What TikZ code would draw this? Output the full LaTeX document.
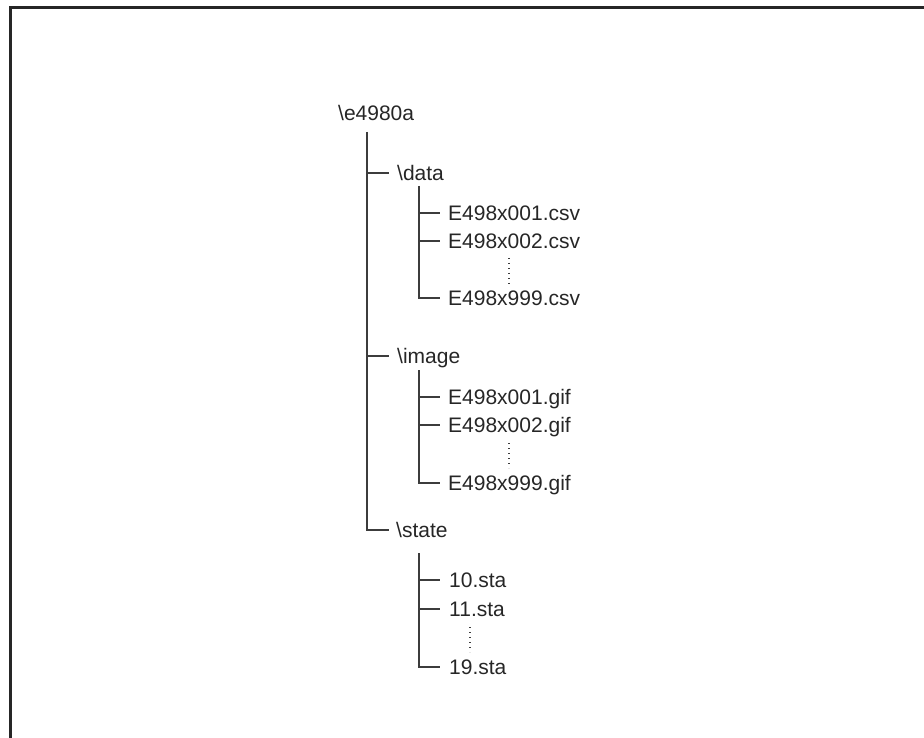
\documentclass[tikz,border=0pt]{standalone}
\usepackage{fontspec}
\setmainfont{Liberation Sans}
\definecolor{ink}{HTML}{262626}
\definecolor{linec}{HTML}{3C3C3C}
\begin{document}
\begin{tikzpicture}[x=1pt,y=-1pt,
  item/.style={anchor=west,inner sep=0pt,text height=15pt,text depth=0pt,
    text=ink,font=\fontsize{21}{25}\selectfont},
  tree/.style={draw=linec,line width=1.2pt},
  vdots/.style={draw=linec,line width=1.1pt,dash pattern=on 1.4pt off 3.6pt},
  frame/.style={draw=ink,line width=3pt}]
\useasboundingbox (0,0) rectangle (924,738);
\draw[frame] (10.5,740) -- (10.5,7.3) -- (926,7.3);

\node[item] (root) at (338,113) {\textbackslash e4980a};
\node[item] (data) at (397,173) {\textbackslash data};
\node[item] (d1) at (448,213) {E498x001.csv};
\node[item] (d2) at (448,241) {E498x002.csv};
\node[item] (d9) at (448,298) {E498x999.csv};
\node[item] (image) at (397,356) {\textbackslash image};
\node[item] (g1) at (448,397) {E498x001.gif};
\node[item] (g2) at (448,425) {E498x002.gif};
\node[item] (g9) at (448,483) {E498x999.gif};
\node[item] (state) at (396,530) {\textbackslash state};
\node[item] (s1) at (449,580) {10.sta};
\node[item] (s2) at (449,609) {11.sta};
\node[item] (s9) at (449,667) {19.sta};

\coordinate (t0) at (367,132);
\coordinate (tdata) at (419,186);
\coordinate (timage) at (419,370);
\coordinate (tstate) at (419,553);

\draw[tree] (t0) |- ([xshift=-7pt]state.west);
\draw[tree] (t0 |- data.west) -- ([xshift=-8pt]data.west);
\draw[tree] (t0 |- image.west) -- ([xshift=-8pt]image.west);

\draw[tree] (tdata) |- ([xshift=-8pt]d9.west);
\draw[tree] (tdata |- d1.west) -- ([xshift=-8pt]d1.west);
\draw[tree] (tdata |- d2.west) -- ([xshift=-8pt]d2.west);

\draw[tree] (timage) |- ([xshift=-8pt]g9.west);
\draw[tree] (timage |- g1.west) -- ([xshift=-8pt]g1.west);
\draw[tree] (timage |- g2.west) -- ([xshift=-8pt]g2.west);

\draw[tree] (tstate) |- ([xshift=-9pt]s9.west);
\draw[tree] (tstate |- s1.west) -- ([xshift=-9pt]s1.west);
\draw[tree] (tstate |- s2.west) -- ([xshift=-9pt]s2.west);

\draw[vdots] (509,258) -- (509,284);
\draw[vdots] (509,443) -- (509,468);
\draw[vdots] (470,627) -- (470,652);
\end{tikzpicture}
\end{document}
